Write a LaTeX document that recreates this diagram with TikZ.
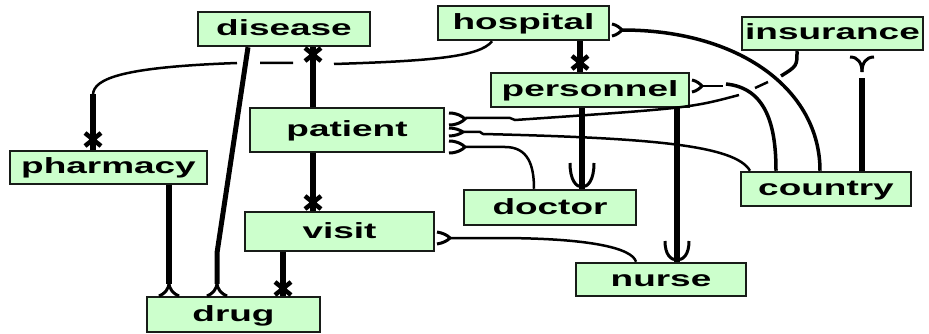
\documentclass[tikz,border=0pt]{standalone}
\usepackage{fontspec}
\newfontfamily\entfont[FakeStretch=1.68]{Liberation Sans}
\definecolor{entfill}{RGB}{204,255,204}
\definecolor{ink}{RGB}{0,0,0}
\definecolor{edge}{RGB}{24,28,24}
\begin{document}
\begin{tikzpicture}[x=1pt,y=-1pt,
  entity/.style={draw=edge, fill=entfill, line width=2.5pt, inner sep=0pt,
    text height=16pt, text depth=3pt, text=ink,
    font=\entfont\bfseries\fontsize{22}{24}\selectfont},
  heavy/.style={line width=5.5pt, draw=ink},
  medium/.style={line width=3.5pt, draw=ink},
  light/.style={line width=2.5pt, draw=ink},
  tick/.style={line width=4.5pt, draw=ink},
  foot/.style={line width=3pt, draw=ink},
]
\useasboundingbox (0,0) rectangle (929,334);

% entities
\node[entity, minimum width=172pt, minimum height=34pt] (disease)   at (284,29)      {disease};
\node[entity, minimum width=171pt, minimum height=34pt] (hospital)  at (523.5,23)    {hospital};
\node[entity, minimum width=181pt, minimum height=33pt] (insurance) at (832.5,33.5)  {insurance};
\node[entity, minimum width=198pt, minimum height=34pt] (personnel) at (590,90)      {personnel};
\node[entity, minimum width=194pt, minimum height=44pt] (patient)   at (347,130)     {patient};
\node[entity, minimum width=197pt, minimum height=33pt] (pharmacy)  at (108.5,167.5) {pharmacy};
\node[entity, minimum width=189pt, minimum height=39pt] (visit)     at (339.5,231.5) {visit};
\node[entity, minimum width=173pt, minimum height=35pt] (drug)      at (233.5,314.5) {drug};
\node[entity, minimum width=172pt, minimum height=35pt] (doctor)    at (550,207.5)   {doctor};
\node[entity, minimum width=170pt, minimum height=34pt] (country)   at (826,189)     {country};
\node[entity, minimum width=170pt, minimum height=33pt] (nurse)     at (661,279.5)   {nurse};

% disease -- patient
\draw[heavy] ([xshift=29pt]disease.south) -- ([xshift=-34pt]patient.north);
\draw[tick] (305,48) -- (321,61) (321,48) -- (305,61);

% hospital -- pharmacy (with jumps over the crossing lines)
\draw[light] ([xshift=-31.5pt]hospital.south) .. controls (480,57) and (430,61) .. (334,64)
  (293,63) -- (260,63)
  (237,63) .. controls (125,67) and (93,78) .. (93,95);
\draw[heavy] (93,94) -- ([xshift=-15.5pt]pharmacy.north);
\draw[tick] (85,133) -- (101,146) (101,133) -- (85,146);

% hospital -- personnel
\draw[heavy] ([xshift=56.5pt]hospital.south) -- ([xshift=-10pt]personnel.north);
\draw[tick] (572,56) -- (588,69) (588,56) -- (572,69);

% hospital -- country
\draw[foot] (612,24) .. controls (617,25) and (620,28) .. (622,30) .. controls (620,32) and (617,35) .. (612,36);
\draw[medium] ([xshift=12pt,yshift=-7pt]hospital.east) .. controls (740,30) and (820,90) .. ([xshift=-6pt]country.north);

% personnel -- country
\draw[foot] (692,80) .. controls (697,81) and (700,84) .. (702,86) .. controls (700,88) and (697,91) .. (692,92);
\draw[light] ([xshift=12pt,yshift=4pt]personnel.east) -- (723,86);
\draw[medium] (726,84) .. controls (766,88) and (776,125) .. ([xshift=-50pt]country.north);

% insurance -- patient (broken where it passes under the two curves)
\draw[medium] ([xshift=-35.5pt]insurance.south) .. controls (797,66) .. (781,76);
\draw[light] (768,82) -- (755,88);
\draw[light] (739,95) .. controls (690,108) .. (515,120) -- (510,118) -- ([xshift=20pt,yshift=12pt]patient.east);
\draw[foot] (449,113) .. controls (457,113) and (462,116) .. (465,119) .. controls (462,122) and (457,125) .. (449,125);

% country -- patient
\draw[light] ([xshift=18pt,yshift=-2pt]patient.east) -- (480,132) -- (483,134) .. controls (650,138) and (735,145) .. ([xshift=-76pt]country.north);
\draw[foot] (449,128) .. controls (455,128) and (460,130) .. (463,132) .. controls (460,134) and (455,136) .. (449,136);

% patient -- doctor
\draw[light] ([xshift=20pt,yshift=-17pt]patient.east) -- (505,147) .. controls (528,147) and (534,165) .. ([xshift=-16pt]doctor.north);
\draw[foot] (449,141) .. controls (457,141) and (462,144) .. (465,147) .. controls (462,150) and (457,153) .. (449,153);

% personnel -- doctor
\draw[heavy] ([xshift=-8pt]personnel.south) -- ([xshift=32pt]doctor.north);
\draw[foot] (570,163) .. controls (570,180) and (576,187) .. (582,187) .. controls (588,187) and (594,180) .. (594,163);

% personnel -- nurse
\draw[heavy] ([xshift=87pt]personnel.south) -- ([xshift=16pt]nurse.north);
\draw[foot] (665,241) .. controls (665,255) and (671,260) .. (677,260) .. controls (683,260) and (689,255) .. (689,241);

% visit -- nurse
\draw[light] ([xshift=15pt,yshift=-6.5pt]visit.east) -- (497,238) .. controls (590,238) and (632,248) .. ([xshift=-25pt]nurse.north);
\draw[foot] (437,232) .. controls (443,233) and (447,235) .. (450,238) .. controls (447,241) and (443,243) .. (437,244);

% insurance -- country
\draw[heavy] ([xshift=29.5pt,yshift=-27pt]insurance.south) -- ([xshift=36pt]country.north);
\draw[foot] (850,57) .. controls (858,57) and (862,63) .. (862,72);
\draw[foot] (874,57) .. controls (866,57) and (862,63) .. (862,72);

% patient -- visit
\draw[heavy] ([xshift=-34pt]patient.south) -- ([xshift=-26.5pt]visit.north);
\draw[tick] (305,196) -- (321,209) (321,196) -- (305,209);

% visit -- drug
\draw[heavy] ([xshift=-56.5pt]visit.south) -- ([xshift=49.5pt]drug.north);
\draw[tick] (275,282) -- (291,295) (291,282) -- (275,295);

% pharmacy -- drug
\draw[heavy] ([xshift=60.5pt]pharmacy.south) -- ([xshift=-64.5pt,yshift=12pt]drug.north);
\draw[foot] (159,296) .. controls (164,294) and (169,290) .. (169,282) .. controls (169,290) and (174,294) .. (179,296);

% disease -- drug
\draw[line width=5pt, draw=ink] ([xshift=-36pt]disease.south) -- (217,253) -- ([xshift=-16.5pt,yshift=12pt]drug.north);
\draw[foot] (207,296) .. controls (212,294) and (217,290) .. (217,282) .. controls (217,290) and (222,294) .. (227,296);
\end{tikzpicture}
\end{document}
